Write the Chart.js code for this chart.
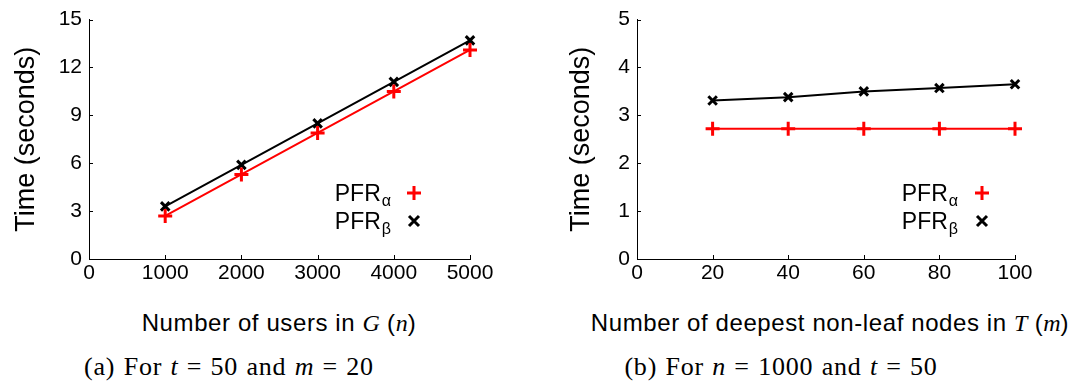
<!DOCTYPE html>
<html lang="en">
<head>
    <meta charset="UTF-8">
    <title>PFR running time</title>
    <script src="https://cdn.jsdelivr.net/npm/chart.js"></script>
    <style>
        html, body {
            margin: 0;
            padding: 0;
            background: #fff;
        }
        .page {
            position: relative;
            width: 1086px;
            height: 389px;
            overflow: hidden;
        }
        .panel {
            position: absolute;
            top: 0;
            width: 543px;
            height: 290px;
        }
        .xtitle, .caption {
            position: absolute;
            white-space: nowrap;
            transform: translate(-50%, -50%);
            color: #000;
        }
        .xtitle {
            font-family: "Liberation Sans", Arial, sans-serif;
            font-size: 24px;
            letter-spacing: 0.6px;
        }
        .xtitle i {
            font-family: "Liberation Serif", "Times New Roman", serif;
            letter-spacing: 0;
        }
        .caption {
            font-family: "Liberation Serif", "Times New Roman", serif;
            font-size: 26px;
            letter-spacing: 0.8px;
            word-spacing: 1px;
        }
    </style>
</head>
<body>
<div class="page">
    <div class="panel" style="left:0"><canvas id="chartA" width="543" height="290"></canvas></div>
    <div class="panel" style="left:543px"><canvas id="chartB" width="543" height="290"></canvas></div>

    <div class="xtitle" style="left:279px; top:323px">Number of users in <i>G</i> (<i>n</i>)</div>
    <div class="xtitle" style="left:830px; top:323px">Number of deepest non-leaf nodes in <i>T</i> (<i>m</i>)</div>

    <div class="caption" style="left:229px; top:367px">(a) For <i>t</i> = 50 and <i>m</i> = 20</div>
    <div class="caption" style="left:781px; top:367px">(b) For <i>n</i> = 1000 and <i>t</i> = 50</div>
</div>

<script>
    // (a) varying number of users n
    const usersN = [1000, 2000, 3000, 4000, 5000];
    const timeAlphaA = [2.7, 5.3, 7.9, 10.5, 13.1];
    const timeBetaA = [3.3, 5.9, 8.5, 11.1, 13.7];

    // (b) varying number of deepest non-leaf nodes m
    const nodesM = [20, 40, 60, 80, 100];
    const timeAlphaB = [2.72, 2.72, 2.72, 2.72, 2.72];
    const timeBetaB = [3.31, 3.38, 3.50, 3.57, 3.65];

    const seriesNames = ['\u03b1', '\u03b2'];   // subscripts of PFR

    const SANS = '"Liberation Sans", Arial, sans-serif';
    Chart.defaults.color = '#000';
    Chart.defaults.font.family = SANS;

    function pairs(xs, ys) {
        return xs.map((x, i) => ({ x: x, y: ys[i] }));
    }

    // inward tick marks + legend with subscripts, gnuplot style
    const gnuplotExtras = {
        id: 'gnuplotExtras',
        afterDraw(chart, args, opts) {
            const ctx = chart.ctx;
            const area = chart.chartArea;
            const xs = chart.scales.x, ys = chart.scales.y;
            ctx.save();
            ctx.strokeStyle = '#000';
            ctx.lineWidth = 1;
            ctx.beginPath();
            ys.ticks.forEach(t => {
                const py = Math.round(ys.getPixelForValue(t.value)) + 0.5;
                ctx.moveTo(area.left, py);
                ctx.lineTo(area.left + 4, py);
            });
            xs.ticks.forEach(t => {
                const px = Math.round(xs.getPixelForValue(t.value)) + 0.5;
                ctx.moveTo(px, area.bottom);
                ctx.lineTo(px, area.bottom - 4);
            });
            ctx.stroke();

            // legend
            const textRight = area.right - opts.textOffset;
            const markX = area.right - opts.markOffset;
            chart.data.datasets.forEach((ds, i) => {
                const rowY = opts.rowTop + i * 28;
                ctx.font = '23px ' + SANS;
                const mainW = ctx.measureText('PFR').width;
                ctx.font = '16px ' + SANS;
                const subW = ctx.measureText(seriesNames[i]).width;
                const x0 = textRight - mainW - subW;
                ctx.fillStyle = '#000';
                ctx.textBaseline = 'alphabetic';
                ctx.textAlign = 'left';
                ctx.font = '23px ' + SANS;
                ctx.fillText('PFR', x0, rowY + 8);
                ctx.font = '16px ' + SANS;
                ctx.fillText(seriesNames[i], x0 + mainW + 1, rowY + 13);

                ctx.strokeStyle = ds.pointBorderColor;
                ctx.lineWidth = 3;
                ctx.beginPath();
                if (ds.pointStyle === 'cross') {
                    ctx.moveTo(markX - 7, rowY); ctx.lineTo(markX + 7, rowY);
                    ctx.moveTo(markX, rowY - 7); ctx.lineTo(markX, rowY + 7);
                } else {
                    ctx.moveTo(markX - 5, rowY - 5); ctx.lineTo(markX + 5, rowY + 5);
                    ctx.moveTo(markX - 5, rowY + 5); ctx.lineTo(markX + 5, rowY - 5);
                }
                ctx.stroke();
            });
            ctx.restore();
        }
    };

    function makeChart(id, xs, alpha, beta, cfg) {
        const ctx = document.getElementById(id).getContext('2d');
        return new Chart(ctx, {
            type: 'line',
            data: {
                datasets: [{
                    label: 'PFR\u03b1',
                    data: pairs(xs, alpha),
                    borderColor: '#ff0000',
                    borderWidth: 2,
                    pointStyle: 'cross',
                    pointRadius: 7,
                    pointBorderWidth: 3,
                    pointBorderColor: '#ff0000',
                    pointBackgroundColor: '#ff0000',
                    tension: 0,
                    clip: false
                }, {
                    label: 'PFR\u03b2',
                    data: pairs(xs, beta),
                    borderColor: '#000000',
                    borderWidth: 2,
                    pointStyle: 'crossRot',
                    pointRadius: 6,
                    pointBorderWidth: 3,
                    pointBorderColor: '#000000',
                    pointBackgroundColor: '#000000',
                    tension: 0,
                    clip: false
                }]
            },
            options: {
                responsive: false,
                animation: false,
                devicePixelRatio: 1,
                layout: { padding: { top: 15, right: cfg.padRight, bottom: 0, left: 0 } },
                scales: {
                    x: {
                        type: 'linear',
                        min: 0,
                        max: cfg.xMax,
                        ticks: {
                            stepSize: cfg.xStep,
                            font: { size: 21 },
                            padding: 2,
                            maxRotation: 0,
                            callback: v => String(v)
                        },
                        grid: { drawOnChartArea: false, drawTicks: false },
                        border: { color: '#000', width: 1 },
                        afterFit(scale) { scale.height = 31; }
                    },
                    y: {
                        min: 0,
                        max: cfg.yMax,
                        ticks: {
                            stepSize: cfg.yStep,
                            font: { size: 21 },
                            padding: 7,
                            callback: v => String(v)
                        },
                        grid: { drawOnChartArea: false, drawTicks: false },
                        border: { color: '#000', width: 1 },
                        title: {
                            display: true,
                            text: 'Time (seconds)',
                            font: { size: 27 },
                            padding: { top: cfg.titlePad, bottom: 0 }
                        },
                        afterFit(scale) { scale.width = cfg.yWidth; }
                    }
                },
                plugins: {
                    legend: { display: false },
                    tooltip: { enabled: false },
                    gnuplotExtras: cfg.legend
                }
            },
            plugins: [gnuplotExtras]
        });
    }

    makeChart('chartA', usersN, timeAlphaA, timeBetaA, {
        xMax: 5000, xStep: 1000, yMax: 15, yStep: 3,
        padRight: 73, yWidth: 89, titlePad: 10,
        legend: { textOffset: 80, markOffset: 56, rowTop: 193 }
    });

    makeChart('chartB', nodesM, timeAlphaB, timeBetaB, {
        xMax: 100, xStep: 20, yMax: 5, yStep: 1,
        padRight: 71, yWidth: 94, titlePad: 22,
        legend: { textOffset: 58, markOffset: 33, rowTop: 193 }
    });
</script>
</body>
</html>
